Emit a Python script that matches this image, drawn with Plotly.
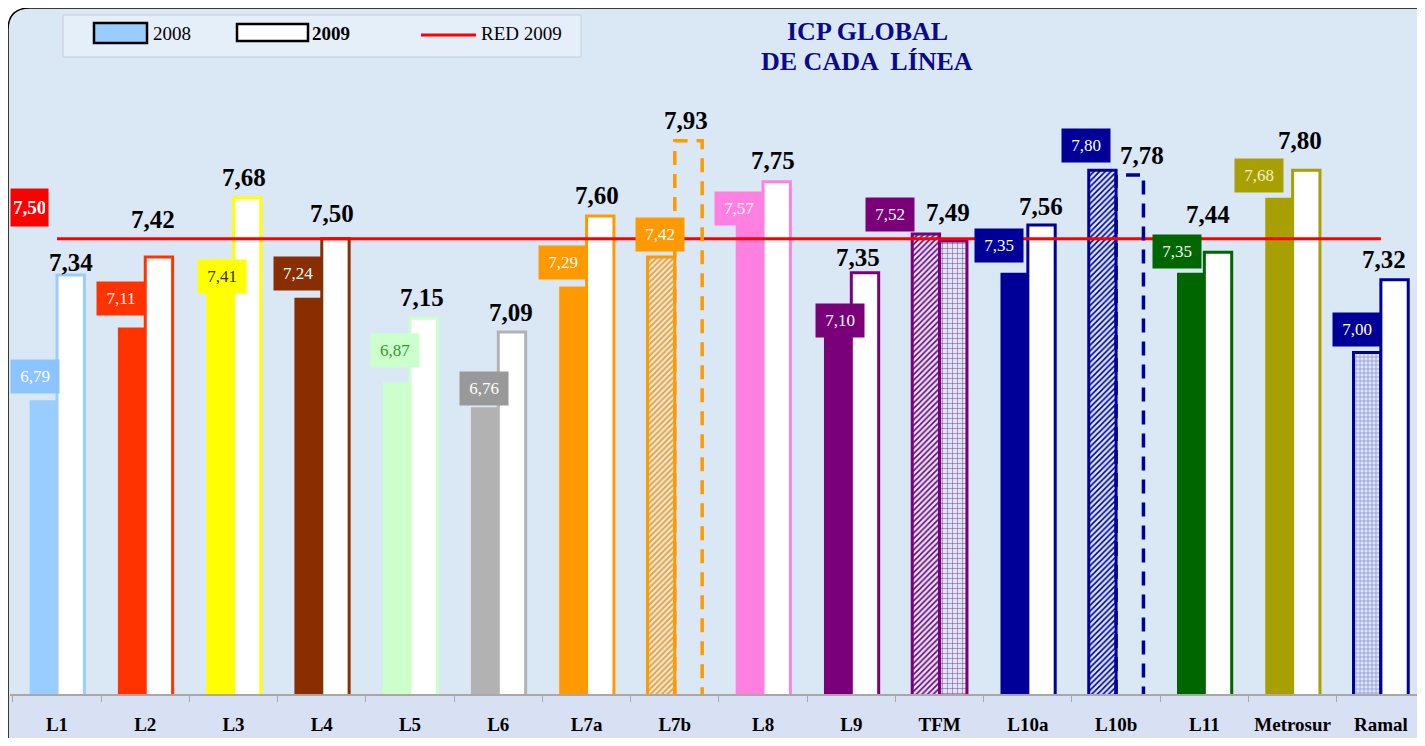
import plotly.graph_objects as go

# ---------------- data ----------------
categories = ["L1", "L2", "L3", "L4", "L5", "L6", "L7a", "L7b", "L8", "L9",
              "TFM", "L10a", "L10b", "L11", "Metrosur", "Ramal"]
icp_2008 = [6.79, 7.11, 7.41, 7.24, 6.87, 6.76, 7.29, 7.42, 7.57, 7.10,
            7.52, 7.35, 7.80, 7.35, 7.68, 7.00]
icp_2009 = [7.34, 7.42, 7.68, 7.50, 7.15, 7.09, 7.60, 7.93, 7.75, 7.35,
            7.49, 7.56, 7.78, 7.44, 7.80, 7.32]
red_2009 = 7.50
red_label = "7,50"
series_names = ["2008", "2009", "RED 2009"]
title_lines = ["ICP GLOBAL", "DE CADA  LÍNEA"]

# ---------------- styles ----------------
line_colors = ["#99CCFF", "#FF3300", "#FFFF00", "#882E00", "#CCFFCC", "#B2B2B2",
               "#FF9900", "#FF9900", "#FF80E0", "#7A007A", "#7A007A", "#000099",
               "#000099", "#006600", "#A8A000", "#000099"]
box_colors = ["#8CC4FF", "#FF3300", "#FFFF00", "#882E00", "#CCFFCC", "#999999",
              "#FF9900", "#FF9900", "#FF80E0", "#7A007A", "#7A007A", "#000099",
              "#000099", "#006600", "#A8A000", "#000099"]
box_text_colors = ["white", "white", "#333300", "white", "#339933", "white",
                   "white", "white", "white", "white", "white", "white",
                   "white", "white", "#F2F0C8", "white"]
box_xshift = [3, 1, 13, 1, 10, 11, 1, 10, 1, 14, -25, -4, -5, -2, -9, 1]
box_yshift = [6, 11, -35, 7, 14, 1, 6, 5, -3, -8, 2, 10, 7, 4, 5, 6]
lab09_xshift = [0, -6, -3, -3, -2, -1, -3, -2, -4, -7, -5, -1, 12, -10, -6, -11]
lab09_yshift = [13, 37, 20, 25, 21, 20, 20, 20, 21, 15, 28, 19, 19, 38, 30, 20]

# 2008: patterned bars use marker colour as pattern ink on a white ground
pat08_shape = ["", "", "", "", "", "", "", "/", "", "", "/", "", "/", "", "", "+"]
fill08 = ["#9C9CDC" if c == "Ramal" else col for c, col in zip(categories, line_colors)]
line08_w = [3 if s else 0 for s in pat08_shape]

dashed_2009 = ["L7b", "L10b"]
pat09_shape = ["+" if c == "TFM" else "" for c in categories]
fill09 = ["rgba(0,0,0,0)" if c in dashed_2009 else "#8A2A8A" if c == "TFM" else "white"
          for c in categories]
line09_w = [0 if c in dashed_2009 else 3 for c in categories]

SERIF = "Liberation Serif, Times New Roman, serif"
BG = "#DAE8F6"
BG_LOW = "#D8E0F4"

# page offset: the figure sits 8px inside the page; plot area in page px
PL, PR, PT, PB = 10, 1425, 11, 694
OFF = 8
W, H = 1425 - OFF, 746 - 2 * OFF


def px(x):
    return (x - PL) / (PR - PL)


def py(y):
    return (PB - y) / (PB - PT)


fig = go.Figure()

fig.add_trace(go.Bar(
    x=categories, y=icp_2008, name=series_names[0], showlegend=False,
    marker=dict(color=fill08,
                line=dict(color=line_colors, width=line08_w),
                pattern=dict(shape=pat08_shape, fillmode="replace", bgcolor="white",
                             size=4, solidity=0.4)),
))
fig.add_trace(go.Bar(
    x=categories, y=icp_2009, name=series_names[1], showlegend=False,
    marker=dict(color=fill09,
                line=dict(color=line_colors, width=line09_w),
                pattern=dict(shape=pat09_shape, fillmode="replace", bgcolor="white",
                             size=5, solidity=0.18)),
))
fig.add_trace(go.Scatter(
    x=[categories[0], categories[-1]], y=[red_2009, red_2009], mode="lines",
    line=dict(color="#FF0000", width=3), name=series_names[2], showlegend=False,
    hoverinfo="skip",
))

half = (1 - 0.38) / 2

# dashed outlines for the two 2009 bars without fill
for i, c in enumerate(categories):
    if c in dashed_2009:
        v = icp_2009[i]
        x0, x1 = i, i + half
        fig.add_shape(type="path", xref="x", yref="y",
                      path=f"M {x0},5.5 L {x0},{v} L {x1},{v} L {x1},5.5",
                      line=dict(color=line_colors[i], width=3.5, dash="14px,9px"))

# 2009 value labels
for i, c in enumerate(categories):
    fig.add_annotation(
        x=i + half / 2, y=icp_2009[i], xref="x", yref="y",
        xanchor="center", yanchor="middle",
        xshift=lab09_xshift[i], yshift=lab09_yshift[i],
        text=f"{icp_2009[i]:.2f}".replace(".", ","), showarrow=False,
        font=dict(family=SERIF, size=25, color="black", weight="bold"),
    )

# 2008 value boxes
for i, c in enumerate(categories):
    fig.add_annotation(
        x=i, y=icp_2008[i], xref="x", yref="y", xanchor="right", yanchor="bottom",
        xshift=box_xshift[i], yshift=box_yshift[i],
        text=f"{icp_2008[i]:.2f}".replace(".", ","), showarrow=False,
        font=dict(family=SERIF, size=17, color=box_text_colors[i]),
        bgcolor=box_colors[i], width=42, height=27, borderpad=3,
    )

# red-line value box
fig.add_annotation(x=0, y=red_2009, xref="paper", yref="y", xanchor="left",
                   yanchor="bottom", yshift=12, text=f"<b>{red_label}</b>",
                   showarrow=False, font=dict(family=SERIF, size=19, color="white"),
                   bgcolor="#FF0000", width=31, height=31, borderpad=3)

# title
for k, t in enumerate(title_lines):
    fig.add_annotation(x=px(867), y=py(31 + 31 * k),
                       xref="paper", yref="paper", xanchor="center", yanchor="middle",
                       text=f"<b>{t}</b>", showarrow=False,
                       font=dict(family=SERIF, size=26, color="#0A0A8A"))

# frame / background
r = 22
frame = (f"M {px(8)},{py(760)} L {px(8)},{py(8 + r)} "
         f"Q {px(8)},{py(8)} {px(8 + r)},{py(8)} L {px(1440)},{py(8)} "
         f"L {px(1440)},{py(760)} Z")
fig.add_shape(type="path", xref="paper", yref="paper", path=frame,
              fillcolor=BG, line=dict(color="black", width=1.5), layer="below")
fig.add_shape(type="rect", xref="paper", yref="paper", x0=px(9), x1=px(1440),
              y0=py(760), y1=py(695), fillcolor=BG_LOW, line=dict(width=0),
              layer="below")

# legend (drawn)
fig.add_shape(type="rect", xref="paper", yref="paper", x0=px(63), x1=px(581),
              y0=py(57), y1=py(15), fillcolor="rgba(238,244,252,0.55)",
              line=dict(color="#C4CCD6", width=1), layer="below")
fig.add_shape(type="rect", xref="paper", yref="paper", x0=px(94), x1=px(147),
              y0=py(43), y1=py(23), fillcolor="#99CCFF",
              line=dict(color="black", width=2.5))
fig.add_shape(type="rect", xref="paper", yref="paper", x0=px(237), x1=px(308),
              y0=py(41), y1=py(24), fillcolor="white",
              line=dict(color="black", width=2.5))
fig.add_shape(type="line", xref="paper", yref="paper", x0=px(421), x1=px(476),
              y0=py(35), y1=py(35), line=dict(color="#FF0000", width=3))
for xl, t in zip([151, 310, 479], [series_names[0], f"<b>{series_names[1]}</b>",
                                    series_names[2]]):
    fig.add_annotation(x=px(xl), y=py(34), xref="paper", yref="paper",
                       xanchor="left", yanchor="middle", text=t, showarrow=False,
                       font=dict(family=SERIF, size=19, color="black"))

fig.update_layout(
    width=W, height=H,
    margin=dict(l=PL - OFF, r=W - (PR - OFF), t=PT - OFF, b=H - (PB - OFF),
                autoexpand=False),
    barmode="group", bargap=0.38, bargroupgap=0,
    separators=",.", showlegend=False,
    paper_bgcolor="white", plot_bgcolor="rgba(0,0,0,0)",
    font=dict(family=SERIF, color="black"),
    xaxis=dict(type="category", showgrid=False, showline=True, linecolor="#A8A8A8",
               linewidth=2, ticks="outside", tickson="boundaries", ticklen=6,
               tickcolor="#A8A8A8", ticklabelstandoff=12, tickangle=0,
               automargin=False,
               tickfont=dict(family=SERIF, size=19, color="black", weight="bold")),
    yaxis=dict(range=[5.5, 8.5], showgrid=False, zeroline=False, showticklabels=False,
               showline=False, ticks="", automargin=False),
)

fig.write_html("out.html")
